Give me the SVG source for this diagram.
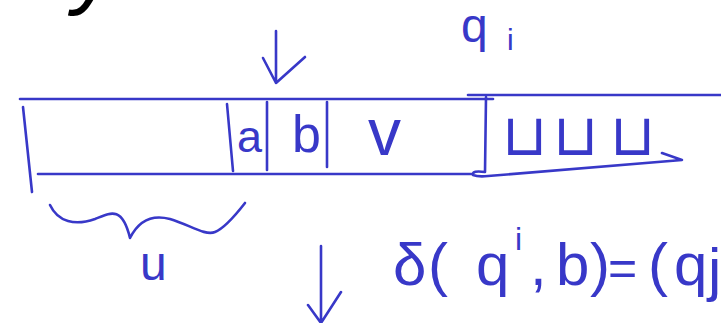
<svg xmlns="http://www.w3.org/2000/svg" width="721" height="323" viewBox="0 0 721 323">
  <style>
    .ink { fill: none; stroke: #3838c8; stroke-width: 2.6; stroke-linecap: round; stroke-linejoin: round; }
    .hand { fill: #3838c8; font-family: "Liberation Sans", "DejaVu Sans", sans-serif; }
    .sym { fill: #3838c8; font-family: "DejaVu Sans", sans-serif; }
  </style>
  <rect width="721" height="323" fill="#ffffff"/>

  <!-- tail of the black line of writing above -->
  <text x="118" y="-3" text-anchor="end" font-family="Liberation Sans, sans-serif" font-style="italic" font-size="90" fill="#000000">ke by</text>

  <!-- tape -->
  <g id="tape">
    <path class="ink" d="M20 99 L493 99"/>
    <path class="ink" d="M468 95 L721 95"/>
    <path class="ink" d="M38 174 L472 174"/>
    <path class="ink" d="M23 107 L32 192"/>
    <path class="ink" d="M227 104 L233 171"/>
    <path class="ink" d="M267 102 L267 170"/>
    <path class="ink" d="M327 102 L327 167"/>
    <path class="ink" d="M486 97 L485 172 Q472 170 473 175 Q478 177 488 176 L682 160 L662 153"/>
  </g>

  <!-- cell contents -->
  <g id="cells">
    <text class="hand" x="237" y="152" font-size="45">a</text>
    <text class="hand" x="292" y="152" font-size="52">b</text>
    <text class="hand" x="368" y="155" font-size="66">v</text>
    <text class="sym" x="502 553 610" y="155" font-size="58">⊔⊔⊔</text>
  </g>

  <!-- head position and state -->
  <g id="head">
    <path class="ink" d="M276 31 L276 83 M263 58 L276 83 L305 57"/>
    <text class="hand" x="461" y="42" font-size="48">q</text>
    <text class="hand" x="507" y="50" font-size="30">i</text>
  </g>

  <!-- brace under the prefix u -->
  <g id="prefix-u">
    <path class="ink" d="M50 205 C58 222 75 226 95 219 C110 213 122 205 130 238 C140 218 155 215 170 219 C190 225 205 236 215 232 C225 228 238 212 245 203"/>
    <text class="hand" x="140" y="280" font-size="48">u</text>
  </g>

  <!-- transition -->
  <g id="transition">
    <path class="ink" d="M321 246 L321 323 M308 305 L321 323 L341 292"/>
    <text class="hand" y="285" font-size="60"><tspan x="393">δ</tspan><tspan x="428">(</tspan><tspan x="476">q</tspan><tspan x="515" y="250" font-size="32">i</tspan><tspan x="530" y="285">,</tspan><tspan x="556">b</tspan><tspan x="590">)</tspan><tspan x="608" font-size="50">=</tspan><tspan x="648" font-size="60">(</tspan><tspan x="674">q</tspan><tspan x="708" y="290">j</tspan></text>
  </g>
</svg>
